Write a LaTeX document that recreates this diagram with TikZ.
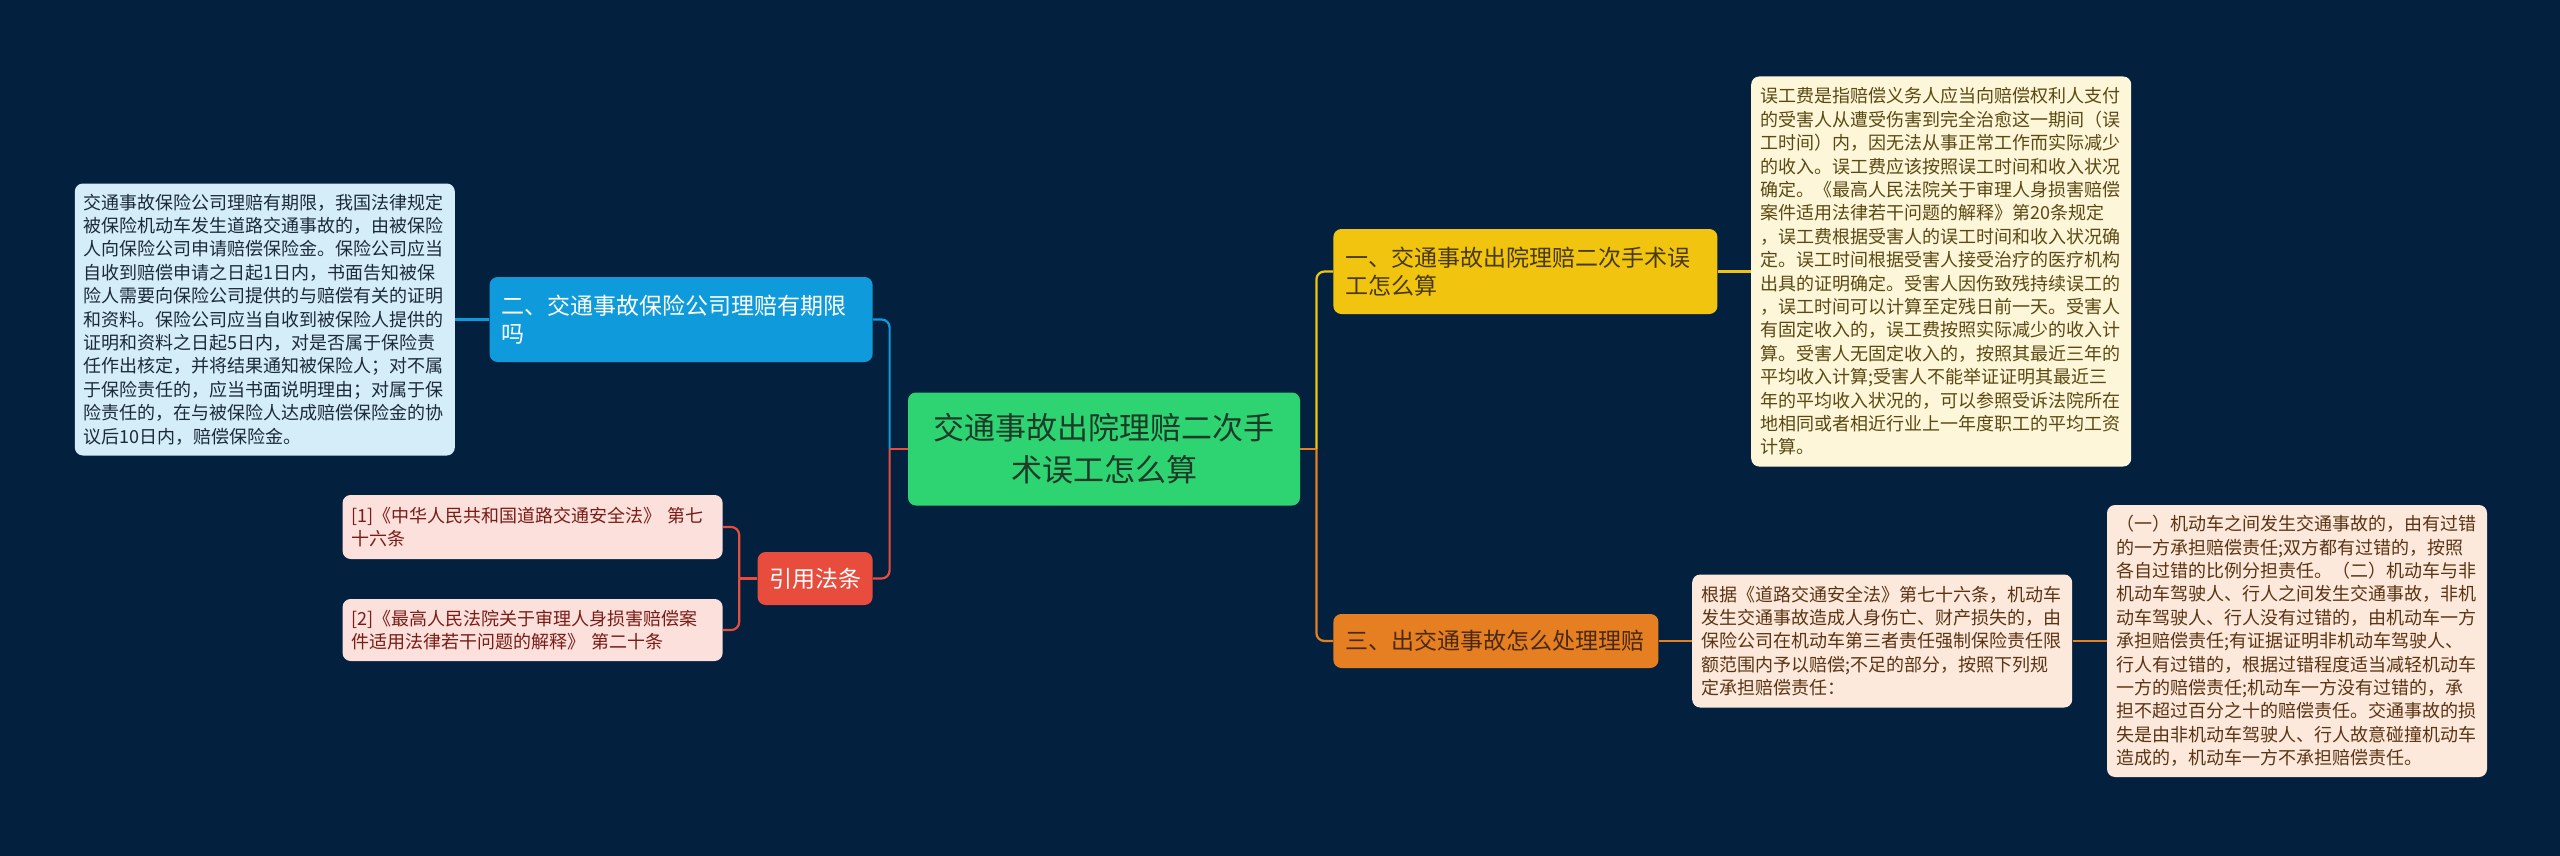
\documentclass[tikz,border=0pt]{standalone}
\usepackage{fontspec}
\setmainfont{Noto Sans CJK SC}
\usetikzlibrary{positioning}
\definecolor{bgNavy}{HTML}{03213F}
\definecolor{rootFill}{HTML}{2FD472}
\definecolor{rootText}{HTML}{1E3A28}
\definecolor{blueFill}{HTML}{0F9BDB}
\definecolor{blueLeaf}{HTML}{D5EDF9}
\definecolor{blueText}{HTML}{1B2A38}
\definecolor{redFill}{HTML}{E74C3C}
\definecolor{redLeaf}{HTML}{FBE0DC}
\definecolor{redText}{HTML}{7A1C16}
\definecolor{yellowFill}{HTML}{F1C40F}
\definecolor{yellowLeaf}{HTML}{FEF6D9}
\definecolor{yellowText}{HTML}{5A4912}
\definecolor{orangeFill}{HTML}{E67E22}
\definecolor{orangeLeaf}{HTML}{FCE9DB}
\definecolor{orangeText}{HTML}{5B3414}

\begin{document}
\begin{tikzpicture}[
    x=0.5pt, y=-0.5pt,
    rootbox/.style={
        rectangle, rounded corners=4pt, fill=rootFill, text=rootText,
        text width=180pt, inner xsep=8pt, inner ysep=0pt, minimum height=56.5pt,
        align=center, font=\fontsize{15.5pt}{21pt}\selectfont
    },
    topic/.style={
        rectangle, rounded corners=4pt, inner xsep=6pt, inner ysep=0pt,
        align=left, font=\fontsize{11.5pt}{14pt}\selectfont
    },
    leaf/.style={
        rectangle, rounded corners=4pt, inner xsep=4.5pt, inner ysep=0pt,
        text width=181pt, align=left, font=\fontsize{9pt}{11.7pt}\selectfont
    },
    link/.style={line width=1.1pt, rounded corners=4pt}
]
  \useasboundingbox (0,0) rectangle (2560,856);
  \fill[bgNavy] (0,0) rectangle (2560,856);

  % Nodes
  \node[rootbox] (root) at (1104,449) {交通事故出院理赔二次手\\术误工怎么算};

  \node[topic, fill=blueFill, text=white, text width=179.5pt, minimum height=42.5pt, anchor=east] (blue) at (873,319.5) {二、交通事故保险公司理赔有期限\\吗};
  \node[leaf, fill=blueLeaf, text=blueText, minimum height=136pt, left=17pt of blue] (blueleaf) {交通事故保险公司理赔有期限，我国法律规定\\被保险机动车发生道路交通事故的，由被保险\\人向保险公司申请赔偿保险金。保险公司应当\\自收到赔偿申请之日起1日内，书面告知被保\\险人需要向保险公司提供的与赔偿有关的证明\\和资料。保险公司应当自收到被保险人提供的\\证明和资料之日起5日内，对是否属于保险责\\任作出核定，并将结果通知被保险人；对不属\\于保险责任的，应当书面说明理由；对属于保\\险责任的，在与被保险人达成赔偿保险金的协\\议后10日内，赔偿保险金。};

  \node[topic, fill=redFill, text=white, text width=46pt, inner xsep=5.75pt, minimum height=26.5pt, align=center, anchor=east] (cite) at (873,578.5) {引用法条};
  \node[leaf, fill=redLeaf, text=redText, minimum height=32pt, anchor=east] (citeone) at (723,527) {[1]《中华人民共和国道路交通安全法》~第七\\十六条};
  \node[leaf, fill=redLeaf, text=redText, minimum height=31pt, anchor=east] (citetwo) at (723,630) {[2]《最高人民法院关于审理人身损害赔偿案\\件适用法律若干问题的解释》~第二十条};

  \node[topic, fill=yellowFill, text=yellowText!80!black, text width=180pt, minimum height=42.5pt, anchor=west] (yellow) at (1333,271.5) {一、交通事故出院理赔二次手术误\\工怎么算};
  \node[leaf, fill=yellowLeaf, text=yellowText, minimum height=195pt, right=16.5pt of yellow] (yellowleaf) {误工费是指赔偿义务人应当向赔偿权利人支付\\的受害人从遭受伤害到完全治愈这一期间（误\\工时间）内，因无法从事正常工作而实际减少\\的收入。误工费应该按照误工时间和收入状况\\确定。《最高人民法院关于审理人身损害赔偿\\案件适用法律若干问题的解释》第20条规定\\，误工费根据受害人的误工时间和收入状况确\\定。误工时间根据受害人接受治疗的医疗机构\\出具的证明确定。受害人因伤致残持续误工的\\，误工时间可以计算至定残日前一天。受害人\\有固定收入的，误工费按照实际减少的收入计\\算。受害人无固定收入的，按照其最近三年的\\平均收入计算;受害人不能举证证明其最近三\\年的平均收入状况的，可以参照受诉法院所在\\地相同或者相近行业上一年度职工的平均工资\\计算。};

  \node[topic, fill=orangeFill, text=orangeText!80!black, text width=150.5pt, minimum height=27pt, anchor=west] (orange) at (1333,641) {三、出交通事故怎么处理理赔};
  \node[leaf, fill=orangeLeaf, text=orangeText, minimum height=66.5pt, right=16.5pt of orange] (orangeleaf) {根据《道路交通安全法》第七十六条，机动车\\发生交通事故造成人身伤亡、财产损失的，由\\保险公司在机动车第三者责任强制保险责任限\\额范围内予以赔偿;不足的部分，按照下列规\\定承担赔偿责任：};
  \node[leaf, fill=orangeLeaf, text=orangeText, minimum height=136pt, right=17pt of orangeleaf] (orangerule) {（一）机动车之间发生交通事故的，由有过错\\的一方承担赔偿责任;双方都有过错的，按照\\各自过错的比例分担责任。（二）机动车与非\\机动车驾驶人、行人之间发生交通事故，非机\\动车驾驶人、行人没有过错的，由机动车一方\\承担赔偿责任;有证据证明非机动车驾驶人、\\行人有过错的，根据过错程度适当减轻机动车\\一方的赔偿责任;机动车一方没有过错的，承\\担不超过百分之十的赔偿责任。交通事故的损\\失是由非机动车驾驶人、行人故意碰撞机动车\\造成的，机动车一方不承担赔偿责任。};

  % Edges
  \coordinate[right=8pt of root.east] (rightfork);
  \coordinate[left=9pt of root.west] (leftfork);
  \coordinate[left=9pt of cite.west] (citefork);

  \draw[link, draw=yellowFill] (rightfork) |- (yellow.west);
  \draw[link, draw=orangeFill] (rightfork) |- (orange.west);
  \draw[link, draw=orangeFill] (root.east) -- (rightfork);
  \draw[link, draw=yellowFill] (yellow.east) -- (yellowleaf.west);
  \draw[link, draw=orangeFill] (orange.east) -- (orangeleaf.west);
  \draw[link, draw=orangeFill] (orangeleaf.east) -- (orangerule.west);

  \draw[link, draw=blueFill] (leftfork) |- (blue.east);
  \draw[link, draw=redFill] (leftfork) |- (cite.east);
  \draw[link, draw=redFill] (root.west) -- (leftfork);
  \draw[link, draw=blueFill] (blue.west) -- (blueleaf.east);

  \draw[link, draw=redFill] (citefork) |- (citeone.east);
  \draw[link, draw=redFill] (citefork) |- (citetwo.east);
  \draw[link, draw=redFill] (cite.west) -- (citefork);

\end{tikzpicture}
\end{document}
